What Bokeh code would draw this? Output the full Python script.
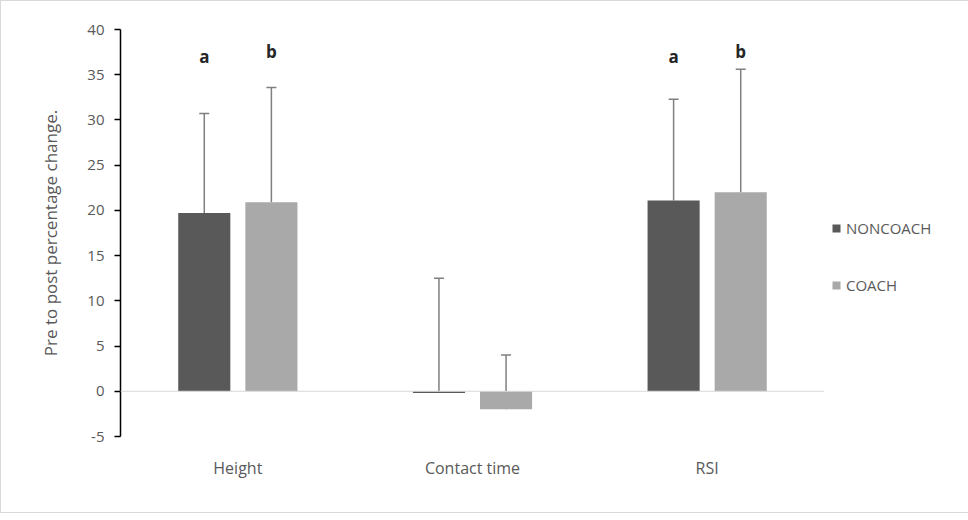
from bokeh.plotting import figure
from bokeh.models import FactorRange, Range1d, Whisker, TeeHead, ColumnDataSource, Span, Legend, LegendItem
from bokeh.transform import dodge
from bokeh.core.properties import value
from bokeh.embed import file_html
from bokeh.resources import INLINE

categories = ["Height", "Contact time", "RSI"]
noncoach = [19.7, -0.2, 21.1]
coach = [20.9, -2.0, 22.0]
noncoach_err = [11.0, 12.7, 11.2]
coach_err = [12.7, 6.0, 13.6]
sig_noncoach = ["a", "", "a"]
sig_coach = ["b", "", "b"]
y_ticks = [-5, 0, 5, 10, 15, 20, 25, 30, 35, 40]

FONT = "Open Sans"
GRAY_TXT = "#595959"

src = ColumnDataSource(dict(
    cat=categories,
    nc=noncoach, c=coach,
    nc_up=[v + e for v, e in zip(noncoach, noncoach_err)],
    c_up=[v + e for v, e in zip(coach, coach_err)],
    nc_sig=sig_noncoach, c_sig=sig_coach,
    nc_sig_y=[37.0 if s else 0 for s in sig_noncoach],
    c_sig_y=[37.6 if s else 0 for s in sig_coach],
))

p = figure(x_range=FactorRange(*categories, range_padding=0), y_range=Range1d(-5, 40),
           frame_width=704, frame_height=407,
           min_border_left=119, min_border_right=127, min_border_top=28, min_border_bottom=76,
           output_backend="svg", toolbar_location=None, background_fill_color="white",
           border_fill_color="white")
p.styles = {"border": "1px solid #d9d9d9"}
p.outline_line_color = None
p.xgrid.grid_line_color = None
p.ygrid.grid_line_color = None

off = 0.143
bw = 0.222
r1 = p.vbar(x=dodge("cat", -off, range=p.x_range), top="nc", bottom=0, width=bw, source=src,
            fill_color="#595959", line_color=None)
r2 = p.vbar(x=dodge("cat", off, range=p.x_range), top="c", bottom=0, width=bw, source=src,
            fill_color="#a9a9a9", line_color=None)

p.add_layout(Span(location=0, dimension="width", line_color="#d9d9d9", line_width=1))

for xoff, base, up in [(-off, "nc", "nc_up"), (off, "c", "c_up")]:
    w = Whisker(base=dodge("cat", xoff, range=p.x_range), upper=up, lower=base, source=src,
                dimension="height", line_color="#7f7f7f", line_width=1.5,
                upper_head=TeeHead(size=10, line_color="#7f7f7f", line_width=1.5),
                lower_head=None)
    p.add_layout(w)

p.text(x=dodge("cat", -off, range=p.x_range), y="nc_sig_y", text="nc_sig", source=src,
       text_font=value(FONT), text_font_size="17px", text_font_style="bold",
       text_color="#262626", text_align="center", text_baseline="middle")
p.text(x=dodge("cat", off, range=p.x_range), y="c_sig_y", text="c_sig", source=src,
       text_font=value(FONT), text_font_size="17px", text_font_style="bold",
       text_color="#262626", text_align="center", text_baseline="middle")

ya = p.yaxis[0]
ya.ticker = y_ticks
ya.major_label_overrides = {t: str(t) for t in y_ticks}
ya.axis_line_color = "black"
ya.axis_line_width = 1.5
ya.major_tick_line_color = "black"
ya.major_tick_line_width = 1.5
ya.major_tick_out = 6
ya.major_tick_in = 0
ya.minor_tick_line_color = None
ya.major_label_text_font = FONT
ya.major_label_text_font_size = "15px"
ya.major_label_text_color = GRAY_TXT
ya.major_label_standoff = 10
ya.axis_label = "Pre to post percentage change."
ya.axis_label_text_font = FONT
ya.axis_label_text_font_size = "17px"
ya.axis_label_text_font_style = "normal"
ya.axis_label_text_color = GRAY_TXT
ya.axis_label_standoff = 22

xa = p.xaxis[0]
xa.axis_line_color = None
xa.major_tick_line_color = None
xa.minor_tick_line_color = None
xa.major_label_text_font = FONT
xa.major_label_text_font_size = "16px"
xa.major_label_text_color = GRAY_TXT
xa.major_label_standoff = 14

legend = Legend(items=[LegendItem(label="NONCOACH", renderers=[r1]),
                       LegendItem(label="COACH", renderers=[r2])],
                location=(7, 141), background_fill_alpha=0, border_line_color=None,
                glyph_width=10, glyph_height=10, spacing=37, label_text_font=FONT,
                label_text_font_size="15px", label_text_color=GRAY_TXT, label_standoff=5,
                padding=0, margin=0)
p.add_layout(legend, "right")

open("out.html", "w").write(file_html(p, INLINE))
